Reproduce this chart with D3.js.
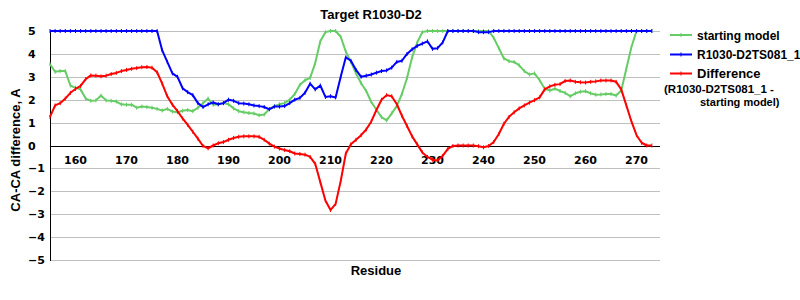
<!DOCTYPE html>
<html>
<head>
<meta charset="utf-8">
<script src="https://cdn.jsdelivr.net/npm/d3@7"></script>
<style>
  html, body { margin: 0; padding: 0; background: #fff; }
  svg { display: block; }
  .lab { font-family: "Liberation Sans", Arial, sans-serif; font-weight: bold; fill: #000; }
  .tick { font-family: "DejaVu Sans", Verdana, sans-serif; font-weight: bold; font-size: 11px; fill: #000; }
</style>
</head>
<body>
<svg id="chart" width="800" height="300"></svg>
<script>
const residues = [155,156,157,158,159,160,161,162,163,164,165,166,167,168,169,170,171,172,173,174,
  175,176,177,178,179,180,181,182,183,184,185,186,187,188,189,190,191,192,193,194,
  195,196,197,198,199,200,201,202,203,204,205,206,207,208,209,210,211,212,213,214,
  215,216,217,218,219,220,221,222,223,224,225,226,227,228,229,230,231,232,233,234,
  235,236,237,238,239,240,241,242,243,244,245,246,247,248,249,250,251,252,253,254,
  255,256,257,258,259,260,261,262,263,264,265,266,267,268,269,270,271,272,273];

const startingModel = [3.55,3.22,3.25,3.25,2.62,2.52,2.45,2.05,1.95,1.97,2.18,1.97,1.95,1.92,1.80,1.78,1.78,1.65,1.70,1.68,
  1.65,1.60,1.53,1.60,1.48,1.45,1.52,1.55,1.50,1.65,1.85,2.05,1.78,1.80,1.85,1.80,1.62,1.50,1.45,1.42,
  1.40,1.32,1.35,1.60,1.72,1.80,1.85,2.00,2.25,2.65,2.85,2.95,3.60,4.55,4.95,5.00,5.00,4.75,4.10,3.65,
  3.15,2.72,2.38,1.90,1.56,1.24,1.10,1.40,1.72,2.25,2.95,3.85,4.50,4.95,5.00,5.00,5.00,5.00,5.00,5.00,
  5.00,5.00,5.00,5.00,5.00,5.00,5.00,4.70,4.25,3.80,3.68,3.65,3.50,3.25,3.10,3.15,2.85,2.48,2.40,2.48,
  2.38,2.30,2.15,2.28,2.35,2.37,2.28,2.22,2.23,2.25,2.25,2.18,2.40,3.35,4.30,5.00,5.00,5.00,5.00];

const model081 = [5.00,5.00,5.00,5.00,5.00,5.00,5.00,5.00,5.00,5.00,5.00,5.00,5.00,5.00,5.00,5.00,5.00,5.00,5.00,5.00,
  5.00,5.00,4.15,3.65,3.15,3.00,2.50,2.33,2.20,1.85,1.68,1.80,1.88,1.80,1.85,2.00,1.95,1.85,1.83,1.80,
  1.75,1.72,1.68,1.58,1.70,1.70,1.72,1.85,2.00,2.08,2.30,2.70,2.45,2.62,2.12,2.15,2.10,3.00,3.85,3.70,
  3.30,3.00,3.05,3.10,3.18,3.25,3.28,3.40,3.65,3.70,4.00,4.20,4.35,4.45,4.55,4.22,4.25,4.50,5.00,5.00,
  5.00,5.00,5.00,5.00,4.95,4.95,4.95,5.00,5.00,5.00,5.00,5.00,5.00,5.00,5.00,5.00,5.00,5.00,5.00,5.00,
  5.00,5.00,5.00,5.00,5.00,5.00,5.00,5.00,5.00,5.00,5.00,5.00,5.00,5.00,5.00,5.00,5.00,5.00,5.00];

const difference = [1.25,1.75,1.85,2.05,2.30,2.47,2.60,2.90,3.06,3.05,3.02,3.05,3.12,3.17,3.25,3.30,3.35,3.38,3.42,3.43,
  3.40,3.20,2.70,2.15,1.78,1.50,1.18,0.90,0.60,0.30,-0.02,-0.12,0.00,0.10,0.15,0.25,0.33,0.38,0.40,0.40,
  0.40,0.38,0.25,0.08,-0.05,-0.13,-0.20,-0.25,-0.35,-0.37,-0.40,-0.50,-0.80,-1.60,-2.40,-2.82,-2.55,-1.55,-0.35,0.05,
  0.25,0.45,0.70,1.05,1.55,2.00,2.20,2.15,1.80,1.30,0.85,0.40,0.05,-0.30,-0.50,-0.62,-0.65,-0.45,-0.15,-0.02,
  0.00,0.00,0.00,0.00,-0.03,-0.08,-0.02,0.15,0.50,0.95,1.25,1.45,1.62,1.75,1.87,1.98,2.10,2.45,2.58,2.65,
  2.68,2.82,2.84,2.78,2.76,2.75,2.78,2.80,2.84,2.84,2.84,2.78,2.45,1.75,1.05,0.45,0.12,0.00,0.00];

const xTicks = [160,170,180,190,200,210,220,230,240,250,260,270];
const yTicks = [5,4,3,2,1,0,-1,-2,-3,-4,-5];
const seriesNames = ["starting model", "R1030-D2TS081_1", "Difference"];
const seriesColors = ["#66cc66", "#0000ff", "#ff0000"];
const titleText = "Target R1030-D2";
const xTitle = "Residue";
const yTitle = "CA-CA difference, A";
const diffNote = ["(R1030-D2TS081_1 -", "starting model)"];

const svg = d3.select("#chart");
svg.append("rect").attr("width", 800).attr("height", 300).attr("fill", "#fff");

const x = d3.scaleLinear().domain([155, 274.6]).range([50, 660]);
const y = d3.scaleLinear().domain([-5, 5]).range([260, 31]);

// grid
svg.append("g").selectAll("line").data(yTicks).join("line")
  .attr("x1", 50).attr("x2", 660)
  .attr("y1", d => Math.round(y(d)) + 0.5).attr("y2", d => Math.round(y(d)) + 0.5)
  .attr("stroke", "#c0c0c0").attr("stroke-width", 1);

// y tick labels (left aligned)
svg.append("g").selectAll("text").data(yTicks).join("text")
  .attr("class", "tick")
  .attr("x", 28).attr("y", d => y(d) + 4)
  .text(d => d < 0 ? "\u2212" + Math.abs(d) : String(d));

// axis lines
svg.append("line").attr("x1", 50.5).attr("x2", 50.5).attr("y1", y(5)).attr("y2", y(-5) + 1)
  .attr("stroke", "#000").attr("stroke-width", 1);
svg.append("line").attr("x1", 50).attr("x2", 660)
  .attr("y1", Math.round(y(0)) + 0.5).attr("y2", Math.round(y(0)) + 0.5)
  .attr("stroke", "#000").attr("stroke-width", 1);

// x tick labels
svg.append("g").selectAll("text").data(xTicks).join("text")
  .attr("class", "tick")
  .attr("text-anchor", "middle")
  .attr("x", d => x(d)).attr("y", y(0) + 18)
  .text(d => d);

// series
const allSeries = [startingModel, model081, difference];
const line = d3.line().x((d, i) => x(residues[i])).y(d => y(d));
allSeries.forEach((vals, si) => {
  const g = svg.append("g");
  g.append("path").datum(vals).attr("d", line)
    .attr("fill", "none").attr("stroke", seriesColors[si]).attr("stroke-width", 2)
    .attr("stroke-linejoin", "round");
  g.selectAll("line").data(vals).join("line")
    .attr("x1", (d, i) => x(residues[i])).attr("x2", (d, i) => x(residues[i]))
    .attr("y1", d => y(d) - 2).attr("y2", d => y(d) + 2)
    .attr("stroke", seriesColors[si]).attr("stroke-width", 1);
});

// title
svg.append("text").attr("class", "lab").attr("font-size", 13)
  .attr("text-anchor", "middle").attr("x", 371).attr("y", 19).text(titleText);
// x title
svg.append("text").attr("class", "lab").attr("font-size", 13)
  .attr("text-anchor", "middle").attr("x", 376).attr("y", 275).text(xTitle);
// y title
svg.append("text").attr("class", "lab").attr("font-size", 13)
  .attr("text-anchor", "middle")
  .attr("transform", "translate(20,150) rotate(-90)").text(yTitle);

// legend
const legY = [35, 54.5, 73.5];
const legSize = [12, 12, 13];
seriesNames.forEach((name, i) => {
  svg.append("line").attr("x1", 670).attr("x2", 692).attr("y1", legY[i]).attr("y2", legY[i])
    .attr("stroke", seriesColors[i]).attr("stroke-width", 2);
  svg.append("line").attr("x1", 681).attr("x2", 681).attr("y1", legY[i] - 2).attr("y2", legY[i] + 2)
    .attr("stroke", seriesColors[i]).attr("stroke-width", 1);
  svg.append("text").attr("class", "lab").attr("font-size", legSize[i])
    .attr("x", 697).attr("y", legY[i] + 4.5).text(name);
});
svg.append("text").attr("class", "lab").attr("font-size", 11.5)
  .attr("x", 664).attr("y", 93).text(diffNote[0]);
svg.append("text").attr("class", "lab").attr("font-size", 11)
  .attr("x", 700).attr("y", 105.5).text(diffNote[1]);
</script>
</body>
</html>
